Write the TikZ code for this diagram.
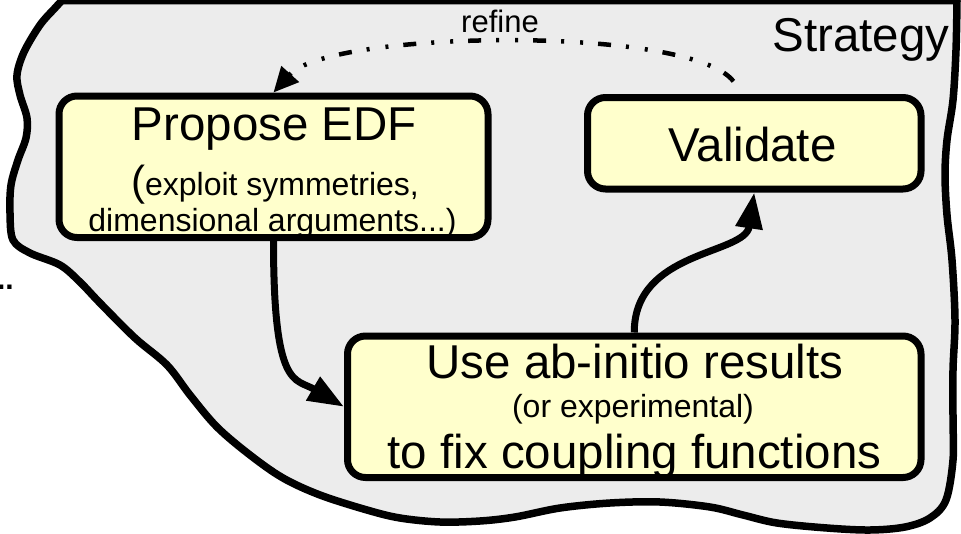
\documentclass[tikz,border=0pt]{standalone}
\usepackage{fontspec}
\setmainfont{Liberation Sans}
\usetikzlibrary{arrows.meta}
\definecolor{blobgray}{HTML}{ECECEC}
\definecolor{boxyellow}{HTML}{FFFFCC}
\tikzset{
  stepbox/.style={draw=black, line width=7pt, fill=boxyellow, rounded corners=18pt,
    inner sep=0pt, outer sep=3.5pt},
  bigtxt/.style={font=\fontsize{47.5}{50}\selectfont, inner sep=0pt},
  smalltxt/.style={font=\fontsize{32}{34}\selectfont, inner sep=0pt},
  flow/.style={line width=7pt, -{Triangle[length=36pt,width=26pt]}},
  loopback/.style={line width=4.5pt,
    dash pattern=on 13pt off 15pt on 3pt off 16pt on 3pt off 15pt,
    -{Triangle[length=25pt,width=23pt]}},
}
\begin{document}
\begin{tikzpicture}[x=1pt,y=-1pt]
\useasboundingbox (0,0) rectangle (961,533);

% the strategy region
\draw[line width=7.5pt, fill=blobgray, line join=round]
  plot[smooth, tension=0.55] coordinates {
    (957,0.5) (956,50) (953,100) (947,140) (945,175) (947,215) (952,260)
    (955,320) (953,370) (953,420) (953,460) (946,500) (930,518) (905,527)
    (870,530) (827,528) (777,523) (743,515) (710,507) (660,502) (610,503)
    (560,508) (515,517) (480,521) (440,522) (400,518) (367,510) (320,495)
    (283,478) (250,455) (217,427) (190,395) (167,365) (135,338) (100,303)
    (80,282) (60,265) (30,253) (13,240) (10,213) (11,185) (18,160) (26,138)
    (27,118) (20,95) (17,75) (24,52) (40,25) (55,8) (62,0.5)}
  -- cycle;

\node[anchor=base east, font=\bfseries\fontsize{30}{32}\selectfont, inner sep=0pt] (more) at (14,289) {...};
\node[bigtxt, anchor=base] (strategy) at (861,51.7) {Strategy};

% steps
\node[stepbox, minimum width=429pt, minimum height=141.5pt] (propose) at (273.5,166.75) {};
\node[stepbox, minimum width=333.5pt, minimum height=91.5pt] (validate) at (754.25,143.25) {};
\node[stepbox, minimum width=573.5pt, minimum height=141.5pt] (use) at (634.25,406.75) {};

\node[bigtxt, anchor=base] (propose-title) at (274.5,140) {Propose EDF};
\node[anchor=base, inner sep=0pt] (propose-note1) at (275,195)
  {{\fontsize{42}{44}\selectfont (}{\fontsize{32}{34}\selectfont exploit symmetries,}};
\node[smalltxt, anchor=base] (propose-note2) at (272.5,231.7) {dimensional arguments...)};
\node[bigtxt, anchor=base] (validate-title) at (752.5,161.7) {Validate};
\node[bigtxt, anchor=base] (use-title) at (635,378) {Use ab-initio results};
\node[smalltxt, anchor=base] (use-note) at (633,417) {(or experimental)};
\node[bigtxt, anchor=base] (use-goal) at (634.5,468) {to fix coupling functions};

% connectors
\draw[flow] (propose.south) .. controls (273.5,390) and (295,378) .. (use.west);
\draw[flow] (use.north) .. controls (634,250) and (745,255) .. (validate.south);
\draw[loopback, shorten <=16pt] ([xshift=-11pt]validate.north)
  .. controls (690,25) and (330,30) .. (propose.north);
\node[anchor=base, font=\fontsize{31}{33}\selectfont, inner sep=0pt] (refine) at (500,32) {refine};
\end{tikzpicture}
\end{document}
